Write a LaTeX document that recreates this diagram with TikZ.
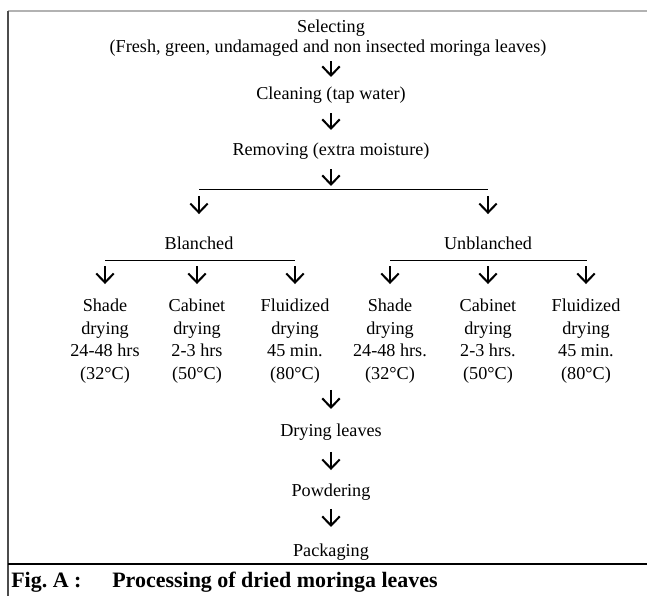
\documentclass[tikz,border=0pt]{standalone}
\usepackage{fontspec}
\setmainfont{Liberation Serif}
\usetikzlibrary{arrows.meta}

\begin{document}
\begin{tikzpicture}[x=0.66pt,y=-0.66pt,
	every node/.style={black,inner sep=0pt,font=\fontsize{12}{15}\selectfont},
	stage/.style={align=center},
	down/.style={-{Straight Barb[length=6pt,width=11.5pt]},line width=1.35pt},
	caption/.style={anchor=west,font=\fontsize{14.5}{17}\selectfont\bfseries}]
	\useasboundingbox (0,0) rectangle (647,596);

	% frame
	\draw[gray!60,line width=1.4pt] (8,11)--(647,11);
	\draw[black!70,line width=1.2pt] (8,11)--(8,596);
	\draw[line width=1pt] (8,564)--(647,564);

	\node (select) at (331,28) {Selecting};
	\node (fresh) at (328,48) {(Fresh, green, undamaged and non insected moringa leaves)};
	\node (clean) at (331,95) {Cleaning (tap water)};
	\node (remove) at (331,151) {Removing (extra moisture)};

	\coordinate (split) at (331,189);
	\coordinate (splitL) at (199,189);
	\coordinate (splitR) at (488,189);
	\node (blanch) at (199,243) {Blanched};
	\node (unblanch) at (488,243) {Unblanched};

	\coordinate (blL) at (105,260);
	\coordinate (blR) at (295,260);
	\coordinate (ubL) at (390,260);
	\coordinate (ubR) at (587,260);

	\node[stage] (shadeB) at (105,341) {Shade\\drying\\24-48 hrs\\(32°C)};
	\node[stage] (cabB) at (197,341) {Cabinet\\drying\\2-3 hrs\\(50°C)};
	\node[stage] (fluidB) at (295,341) {Fluidized\\drying\\45 min.\\(80°C)};
	\node[stage] (shadeU) at (390,341) {Shade\\drying\\24-48 hrs.\\(32°C)};
	\node[stage] (cabU) at (488,341) {Cabinet\\drying\\2-3 hrs.\\(50°C)};
	\node[stage] (fluidU) at (586,341) {Fluidized\\drying\\45 min.\\(80°C)};

	\coordinate (merge) at (331,375);
	\node (dried) at (331,432) {Drying leaves};
	\node (powder) at (331,492) {Powdering};
	\node (pack) at (331,552) {Packaging};

	% main line
	\draw[down,shorten <=8.6pt,shorten >=11.9pt] (select.center |- fresh.center)--(clean.center);
	\draw[down,shorten <=11.9pt,shorten >=13.9pt] (clean.center)--(remove.center);
	\draw[down,shorten <=11.9pt,shorten >=2pt] (remove.center)--(split);

	% two treatments
	\draw (splitL)--(splitR);
	\draw[down,shorten <=4.6pt,shorten >=19.1pt] (splitL)--(blanch.center);
	\draw[down,shorten <=4.6pt,shorten >=19.1pt] (splitR)--(unblanch.center);

	% drying methods
	\draw (blL)--(blR);
	\draw (ubL)--(ubR);
	\draw[down,shorten <=4pt,shorten >=37.6pt] (shadeB |- blL)--(shadeB.center);
	\draw[down,shorten <=4pt,shorten >=37.6pt] (cabB |- blL)--(cabB.center);
	\draw[down,shorten <=4pt,shorten >=37.6pt] (fluidB |- blL)--(fluidB.center);
	\draw[down,shorten <=4pt,shorten >=37.6pt] (shadeU |- ubL)--(shadeU.center);
	\draw[down,shorten <=4pt,shorten >=37.6pt] (cabU |- ubL)--(cabU.center);
	\draw[down,shorten <=4pt,shorten >=37.6pt] (fluidU |- ubL)--(fluidU.center);

	% after drying
	\draw[down,shorten <=9.9pt,shorten >=15.2pt] (merge)--(dried.center);
	\draw[down,shorten <=13.2pt,shorten >=14.5pt] (dried.center)--(powder.center);
	\draw[down,shorten <=11.2pt,shorten >=16.5pt] (powder.center)--(pack.center);

	\node[caption] (figno) at (11,582) {Fig.\ A :};
	\node[caption] (figtitle) at (112,582) {Processing of dried moringa leaves};
\end{tikzpicture}
\end{document}
